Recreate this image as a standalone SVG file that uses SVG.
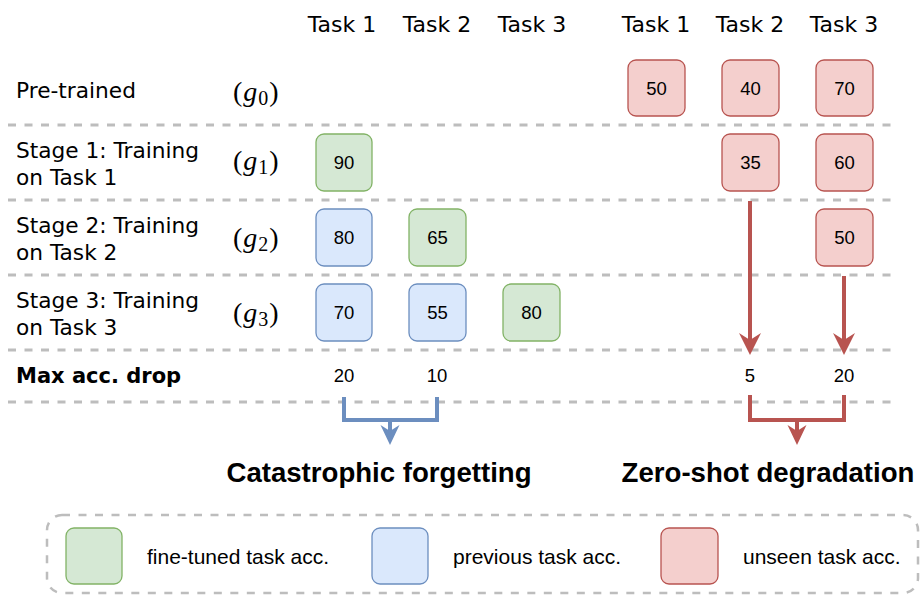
<svg xmlns="http://www.w3.org/2000/svg" width="920" height="597" viewBox="0 0 920 597">
  <style>
    .hdr { font-family: "DejaVu Sans", "Open Sans", sans-serif; font-size: 22px; fill: #000; text-anchor: middle; }
    .lbl { font-family: "DejaVu Sans", "Open Sans", sans-serif; font-size: 21.7px; fill: #000; }
    .lblb { font-family: "DejaVu Sans", "Open Sans", sans-serif; font-size: 21px; font-weight: bold; fill: #000; }
    .math { font-family: "Liberation Serif", "DejaVu Serif", serif; font-size: 28px; fill: #000; }
    .mi { font-style: italic; }
    .sub { font-size: 20px; }
    .num { font-family: "Liberation Sans", Arial, sans-serif; font-size: 18.5px; fill: #000; text-anchor: middle; }
    .title { font-family: "Liberation Sans", Arial, sans-serif; font-size: 27.6px; font-weight: bold; fill: #000; text-anchor: middle; }
    .leg { font-family: "Liberation Sans", Arial, sans-serif; font-size: 21px; fill: #000; }
    .sep { stroke: #bdbdbd; stroke-width: 3; stroke-dasharray: 8 8.5; fill: none; }
    .green { fill: #d5e8d4; stroke: #82b366; stroke-width: 1.3; }
    .blue { fill: #dae8fc; stroke: #6c8ebf; stroke-width: 1.3; }
    .red { fill: #f4cfcd; stroke: #b85450; stroke-width: 1.3; }
    .rline { stroke: #b85450; stroke-width: 4; fill: none; }
    .bline { stroke: #6c8ebf; stroke-width: 4; fill: none; }
  </style>
  <defs>
    <marker id="arrRed" markerUnits="userSpaceOnUse" viewBox="-22 -12 24 24" markerWidth="24" markerHeight="24" refX="-12" refY="0" orient="auto">
      <path d="M0,0 L-22,-11 L-15,0 L-22,11 Z" fill="#b85450"/>
    </marker>
    <marker id="arrRedS" markerUnits="userSpaceOnUse" viewBox="-22 -12 24 24" markerWidth="24" markerHeight="24" refX="-12" refY="0" orient="auto">
      <path d="M0,0 L-20,-9.5 L-14,0 L-20,9.5 Z" fill="#b85450"/>
    </marker>
    <marker id="arrBlueS" markerUnits="userSpaceOnUse" viewBox="-22 -12 24 24" markerWidth="24" markerHeight="24" refX="-12" refY="0" orient="auto">
      <path d="M0,0 L-20,-9.5 L-14,0 L-20,9.5 Z" fill="#6c8ebf"/>
    </marker>
  </defs>

  <!-- column headers -->
  <g id="headers">
    <text class="hdr" x="342" y="32">Task 1</text>
    <text class="hdr" x="437" y="32">Task 2</text>
    <text class="hdr" x="532" y="32">Task 3</text>
    <text class="hdr" x="656" y="32">Task 1</text>
    <text class="hdr" x="750" y="32">Task 2</text>
    <text class="hdr" x="844" y="32">Task 3</text>
  </g>

  <!-- row separators -->
  <g id="separators">
    <line class="sep" x1="8" y1="125" x2="892" y2="125"/>
    <line class="sep" x1="8" y1="200" x2="892" y2="200"/>
    <line class="sep" x1="8" y1="275" x2="892" y2="275"/>
    <line class="sep" x1="8" y1="350" x2="892" y2="350"/>
    <line class="sep" x1="8" y1="402" x2="892" y2="402"/>
  </g>

  <!-- row labels -->
  <g id="row-pretrained">
    <text class="lbl" x="16" y="98">Pre-trained</text>
    <text class="math" x="233" y="101">(<tspan class="mi" dx="1">g</tspan><tspan class="sub" dx="1" dy="4">0</tspan><tspan dy="-4" dx="1">)</tspan></text>
  </g>
  <g id="row-stage1">
    <text class="lbl" x="16" y="158">Stage 1: Training</text>
    <text class="lbl" x="16" y="185">on Task 1</text>
    <text class="math" x="233" y="170">(<tspan class="mi" dx="1">g</tspan><tspan class="sub" dx="1" dy="4">1</tspan><tspan dy="-4" dx="1">)</tspan></text>
  </g>
  <g id="row-stage2">
    <text class="lbl" x="16" y="233">Stage 2: Training</text>
    <text class="lbl" x="16" y="260">on Task 2</text>
    <text class="math" x="233" y="247">(<tspan class="mi" dx="1">g</tspan><tspan class="sub" dx="1" dy="4">2</tspan><tspan dy="-4" dx="1">)</tspan></text>
  </g>
  <g id="row-stage3">
    <text class="lbl" x="16" y="308">Stage 3: Training</text>
    <text class="lbl" x="16" y="335">on Task 3</text>
    <text class="math" x="233" y="322">(<tspan class="mi" dx="1">g</tspan><tspan class="sub" dx="1" dy="4">3</tspan><tspan dy="-4" dx="1">)</tspan></text>
  </g>
  <g id="row-maxdrop">
    <text class="lblb" x="16" y="383">Max acc. drop</text>
    <text class="num" x="344" y="382">20</text>
    <text class="num" x="437" y="382">10</text>
    <text class="num" x="750" y="382">5</text>
    <text class="num" x="844" y="382">20</text>
  </g>

  <!-- accuracy cells -->
  <g id="g0-t1-unseen"><rect class="red" x="628" y="60" width="57" height="56" rx="8"/><text class="num" x="656.5" y="95">50</text></g>
  <g id="g0-t2-unseen"><rect class="red" x="722" y="60" width="57" height="56" rx="8"/><text class="num" x="750.5" y="95">40</text></g>
  <g id="g0-t3-unseen"><rect class="red" x="816" y="60" width="57" height="56" rx="8"/><text class="num" x="844.5" y="95">70</text></g>

  <g id="g1-t1"><rect class="green" x="316" y="134" width="56" height="57" rx="8"/><text class="num" x="344" y="169">90</text></g>
  <g id="g1-t2-unseen"><rect class="red" x="722" y="134" width="57" height="57" rx="8"/><text class="num" x="750.5" y="169">35</text></g>
  <g id="g1-t3-unseen"><rect class="red" x="816" y="134" width="57" height="57" rx="8"/><text class="num" x="844.5" y="169">60</text></g>

  <g id="g2-t1"><rect class="blue" x="316" y="209" width="56" height="57" rx="8"/><text class="num" x="344" y="244">80</text></g>
  <g id="g2-t2"><rect class="green" x="409" y="209" width="57" height="57" rx="8"/><text class="num" x="437.5" y="244">65</text></g>
  <g id="g2-t3-unseen"><rect class="red" x="816" y="209" width="57" height="57" rx="8"/><text class="num" x="844.5" y="244">50</text></g>

  <g id="g3-t1"><rect class="blue" x="316" y="284" width="56" height="57" rx="8"/><text class="num" x="344" y="319">70</text></g>
  <g id="g3-t2"><rect class="blue" x="409" y="284" width="57" height="57" rx="8"/><text class="num" x="437.5" y="319">55</text></g>
  <g id="g3-t3"><rect class="green" x="503" y="284" width="57" height="57" rx="8"/><text class="num" x="531.5" y="319">80</text></g>

  <!-- connectors -->
  <g id="connectors">
    <line class="rline" x1="750" y1="201" x2="750" y2="343" marker-end="url(#arrRed)"/>
    <line class="rline" x1="844" y1="276" x2="844" y2="343" marker-end="url(#arrRed)"/>
    <path class="bline" d="M344,397 V420 H437 V397"/>
    <line class="bline" x1="390" y1="420" x2="390" y2="433" marker-end="url(#arrBlueS)"/>
    <path class="rline" d="M750,395 V420 H844 V395"/>
    <line class="rline" x1="797" y1="420" x2="797" y2="433" marker-end="url(#arrRedS)"/>
  </g>

  <!-- outcome titles -->
  <g id="title-forgetting"><text class="title" x="379" y="482">Catastrophic forgetting</text></g>
  <g id="title-zeroshot"><text class="title" x="768" y="482">Zero-shot degradation</text></g>

  <!-- legend -->
  <g id="legend">
    <rect x="47" y="515" width="871" height="78" rx="15" fill="none" stroke="#bdbdbd" stroke-width="2.5" stroke-dasharray="8 8.5"/>
    <rect class="green" x="66" y="528" width="56" height="56" rx="8"/>
    <text class="leg" x="147" y="564">fine-tuned task acc.</text>
    <rect class="blue" x="372" y="528" width="56" height="56" rx="8"/>
    <text class="leg" x="453" y="564">previous task acc.</text>
    <rect class="red" x="661" y="528" width="57" height="56" rx="8"/>
    <text class="leg" x="743" y="564">unseen task acc.</text>
  </g>
</svg>
